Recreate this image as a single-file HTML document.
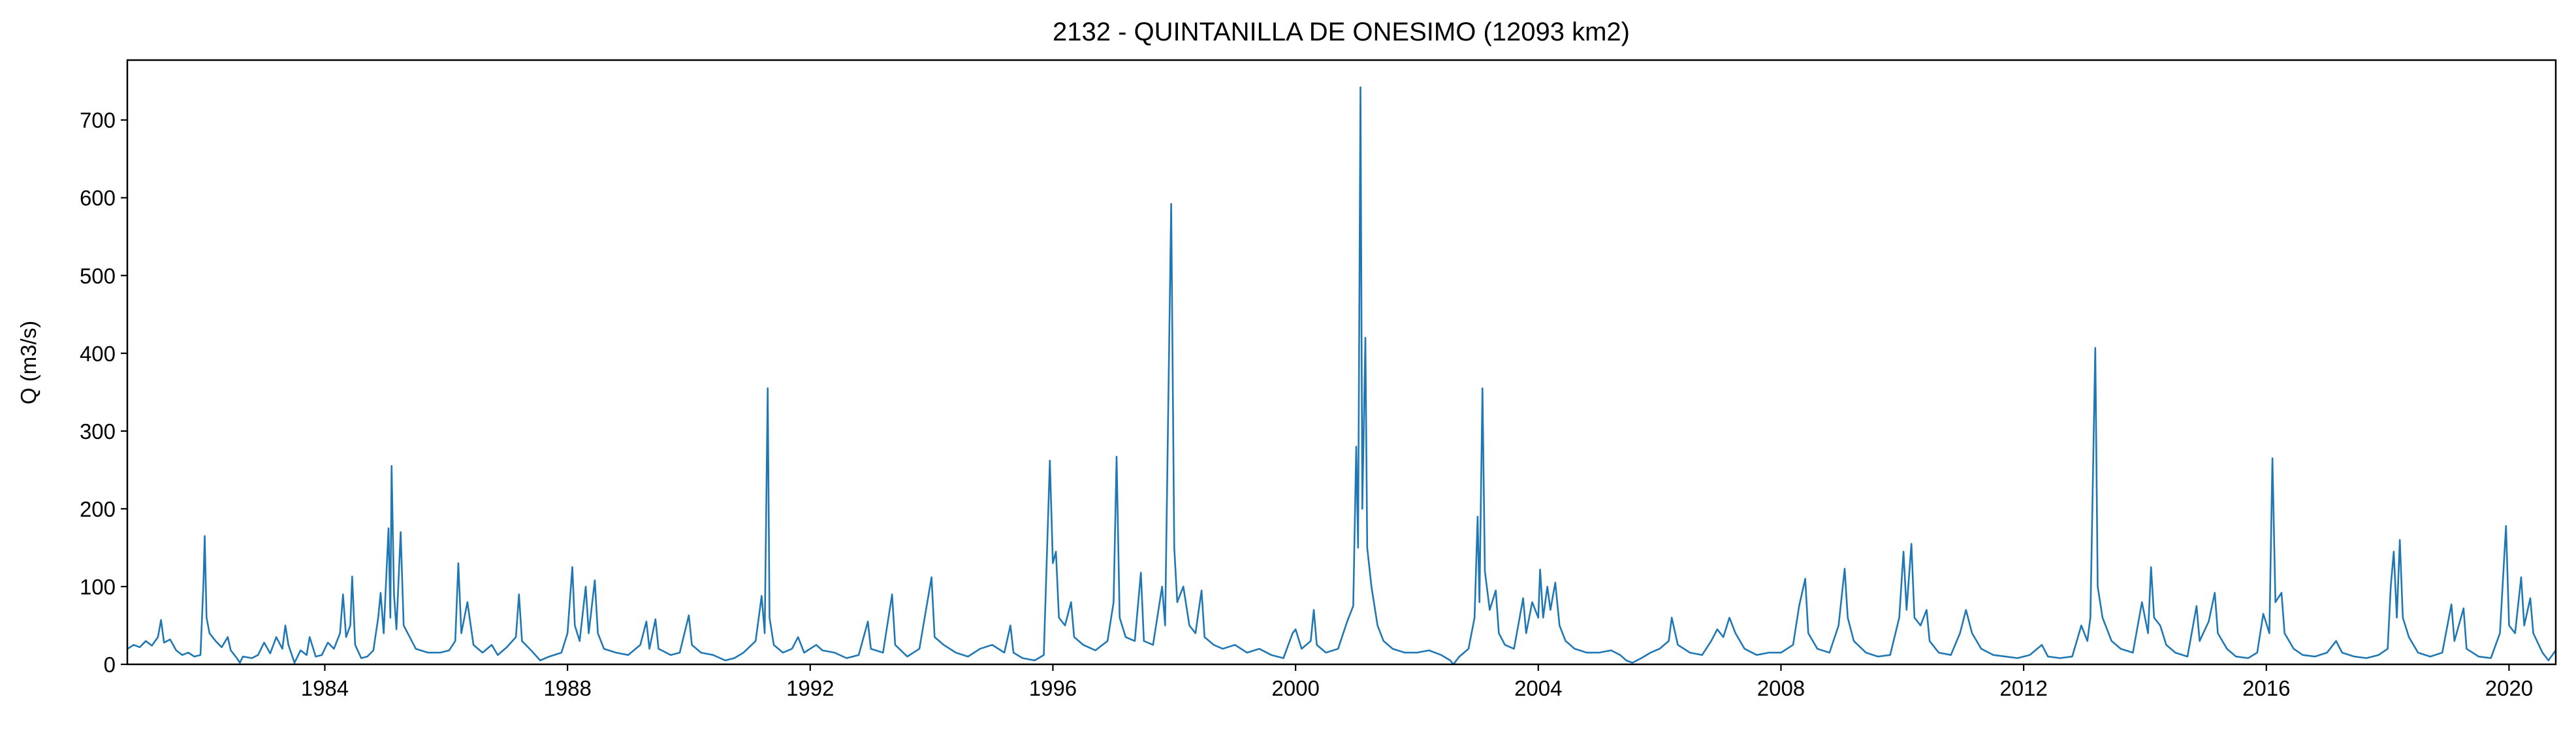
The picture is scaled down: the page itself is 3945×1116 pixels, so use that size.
<!DOCTYPE html>
<html><head><meta charset="utf-8"><style>
html,body{margin:0;padding:0;background:#fff;}
svg{display:block;font-family:"Liberation Sans","DejaVu Sans",sans-serif;}
</style></head><body>
<svg id="chart" width="3945" height="1116" viewBox="0 0 3945 1116" xmlns="http://www.w3.org/2000/svg">
<rect width="3945" height="1116" fill="#fff"/>
<text x="2054" y="62" font-size="40" text-anchor="middle">2132 - QUINTANILLA DE ONESIMO (12093 km2)</text>
<text transform="translate(55,555) rotate(-90)" font-size="33" text-anchor="middle">Q (m3/s)</text>
<g id="plot"></g>
</svg>
<script>
const xTicks = [1984,1988,1992,1996,2000,2004,2008,2012,2016,2020];
const yTicks = [0,100,200,300,400,500,600,700];
const times = [1980.75,1980.85,1980.95,1981.05,1981.15,1981.25,1981.3,1981.35,1981.45,1981.55,1981.65,1981.75,1981.85,1981.95,1982.0,1982.02,1982.05,1982.1,1982.2,1982.3,1982.4,1982.45,1982.55,1982.6,1982.65,1982.8,1982.9,1983.0,1983.1,1983.2,1983.3,1983.35,1983.4,1983.5,1983.6,1983.7,1983.75,1983.85,1983.95,1984.05,1984.15,1984.25,1984.3,1984.35,1984.42,1984.45,1984.5,1984.6,1984.7,1984.8,1984.88,1984.92,1984.97,1985.05,1985.08,1985.1,1985.14,1985.18,1985.25,1985.3,1985.4,1985.5,1985.7,1985.9,1986.05,1986.15,1986.2,1986.25,1986.35,1986.45,1986.6,1986.75,1986.85,1987.0,1987.15,1987.2,1987.25,1987.4,1987.55,1987.7,1987.9,1988.0,1988.08,1988.12,1988.2,1988.3,1988.35,1988.45,1988.5,1988.6,1988.8,1989.0,1989.2,1989.3,1989.35,1989.45,1989.5,1989.7,1989.85,1990.0,1990.05,1990.2,1990.4,1990.6,1990.75,1990.9,1991.1,1991.2,1991.25,1991.3,1991.33,1991.4,1991.55,1991.7,1991.8,1991.9,1992.1,1992.2,1992.4,1992.6,1992.8,1992.95,1993.0,1993.2,1993.35,1993.4,1993.6,1993.8,1994.0,1994.05,1994.2,1994.4,1994.6,1994.8,1995.0,1995.2,1995.3,1995.35,1995.5,1995.7,1995.85,1995.95,1996.0,1996.05,1996.1,1996.2,1996.3,1996.35,1996.5,1996.7,1996.9,1997.0,1997.05,1997.1,1997.2,1997.35,1997.45,1997.5,1997.65,1997.8,1997.85,1997.95,1998.0,1998.05,1998.15,1998.25,1998.35,1998.45,1998.5,1998.65,1998.8,1999.0,1999.2,1999.4,1999.6,1999.8,1999.95,2000.0,2000.1,2000.25,2000.3,2000.35,2000.5,2000.7,2000.85,2000.95,2001.0,2001.03,2001.07,2001.1,2001.15,2001.18,2001.25,2001.35,2001.45,2001.6,2001.8,2002.0,2002.2,2002.4,2002.55,2002.6,2002.7,2002.85,2002.95,2003.0,2003.03,2003.08,2003.12,2003.2,2003.3,2003.35,2003.45,2003.6,2003.75,2003.8,2003.9,2004.0,2004.03,2004.08,2004.15,2004.2,2004.28,2004.35,2004.45,2004.6,2004.8,2005.0,2005.2,2005.35,2005.45,2005.55,2005.7,2005.85,2006.0,2006.15,2006.2,2006.3,2006.5,2006.7,2006.85,2006.95,2007.05,2007.15,2007.25,2007.4,2007.6,2007.8,2008.0,2008.2,2008.3,2008.4,2008.45,2008.6,2008.8,2008.95,2009.05,2009.1,2009.2,2009.4,2009.6,2009.8,2009.95,2010.02,2010.07,2010.15,2010.2,2010.3,2010.4,2010.45,2010.6,2010.8,2010.95,2011.05,2011.15,2011.3,2011.5,2011.7,2011.9,2012.1,2012.3,2012.4,2012.6,2012.8,2012.95,2013.05,2013.1,2013.18,2013.22,2013.3,2013.45,2013.6,2013.8,2013.95,2014.05,2014.1,2014.15,2014.25,2014.35,2014.5,2014.7,2014.85,2014.9,2015.05,2015.15,2015.2,2015.35,2015.5,2015.7,2015.85,2015.95,2016.05,2016.1,2016.15,2016.25,2016.3,2016.45,2016.6,2016.8,2017.0,2017.15,2017.25,2017.45,2017.65,2017.85,2018.0,2018.05,2018.1,2018.15,2018.2,2018.25,2018.35,2018.5,2018.7,2018.9,2019.05,2019.1,2019.25,2019.3,2019.5,2019.7,2019.85,2019.95,2020.0,2020.1,2020.2,2020.25,2020.35,2020.4,2020.55,2020.65,2020.77];
const flows = [20,25,22,30,24,35,57,28,32,18,12,15,10,12,105,165,60,40,30,22,35,18,8,2,10,8,12,28,14,35,20,50,25,2,18,12,35,10,12,28,20,40,90,35,50,113,25,8,10,18,60,92,40,175,60,255,90,45,170,50,35,20,15,15,18,30,130,40,80,25,15,25,12,22,35,90,30,18,5,10,15,40,125,50,30,100,40,108,40,20,15,12,25,55,20,58,20,12,15,63,25,15,12,5,8,15,30,88,40,355,60,25,15,20,35,15,25,18,15,8,12,55,20,15,90,25,10,20,112,35,25,15,10,20,25,15,50,15,8,5,12,262,130,145,60,50,80,35,25,18,30,80,267,60,35,30,118,30,25,100,50,592,150,80,100,50,40,95,35,25,20,25,15,20,12,8,40,45,20,30,70,25,15,20,55,75,280,150,742,200,420,150,100,50,30,20,15,15,18,12,5,0,10,20,60,190,80,355,120,70,95,40,25,20,85,40,80,60,122,60,100,70,105,50,30,20,15,15,18,12,5,2,8,15,20,30,60,25,15,12,30,45,35,60,40,20,12,15,15,25,75,110,40,20,15,50,123,60,30,15,10,12,60,145,70,155,60,50,70,30,15,12,40,70,40,20,12,10,8,12,25,10,8,10,50,30,60,407,100,60,30,20,15,80,40,125,60,50,25,15,10,75,30,55,92,40,20,10,8,15,65,40,265,80,92,40,20,12,10,15,30,15,10,8,12,20,100,145,60,160,60,35,15,10,15,77,30,72,20,10,8,40,178,50,40,112,50,85,40,15,5,18];

const L=195,R=3914,T=92,B=1017;
const xMin=1980.745,xMax=2020.77,yMin=0,yMax=777;
const xs=t=>L+(t-xMin)/(xMax-xMin)*(R-L);
const ys=v=>B-(v-yMin)/(yMax-yMin)*(B-T);
const NS='http://www.w3.org/2000/svg';
const g=document.getElementById('plot');
function mk(tag,attrs){const e=document.createElementNS(NS,tag);for(const k in attrs)e.setAttribute(k,attrs[k]);return e;}

const clip=mk('clipPath',{id:'clipArea'});
clip.appendChild(mk('rect',{x:L,y:T,width:R-L,height:B-T}));
g.appendChild(clip);

const line=mk('polyline',{points:times.map((t,i)=>xs(t).toFixed(1)+','+ys(flows[i]).toFixed(1)).join(' '),fill:'none',stroke:'#1f77b4','stroke-width':2.6,'stroke-linejoin':'round','clip-path':'url(#clipArea)'});


g.appendChild(line);

const frame=mk('rect',{x:L,y:T,width:R-L,height:B-T,fill:'none',stroke:'#000','stroke-width':2.5});


g.appendChild(frame);

xTicks.forEach(v=>{
  const x=xs(v);
  const tk=mk('line',{x1:x,x2:x,y1:B,y2:B+10,stroke:'#000','stroke-width':2.2});
  
  
  g.appendChild(tk);
  const tx=mk('text',{x:x,y:B+48,'font-size':33,'text-anchor':'middle'});
  tx.textContent=v;
  
  
  g.appendChild(tx);
});
yTicks.forEach(v=>{
  const y=ys(v);
  const tk=mk('line',{x1:L-10,x2:L,y1:y,y2:y,stroke:'#000','stroke-width':2.2});
  
  
  g.appendChild(tk);
  const tx=mk('text',{x:L-18,y:y+12,'font-size':33,'text-anchor':'end'});
  tx.textContent=v;
  
  
  g.appendChild(tx);
});
</script>
</body></html>
